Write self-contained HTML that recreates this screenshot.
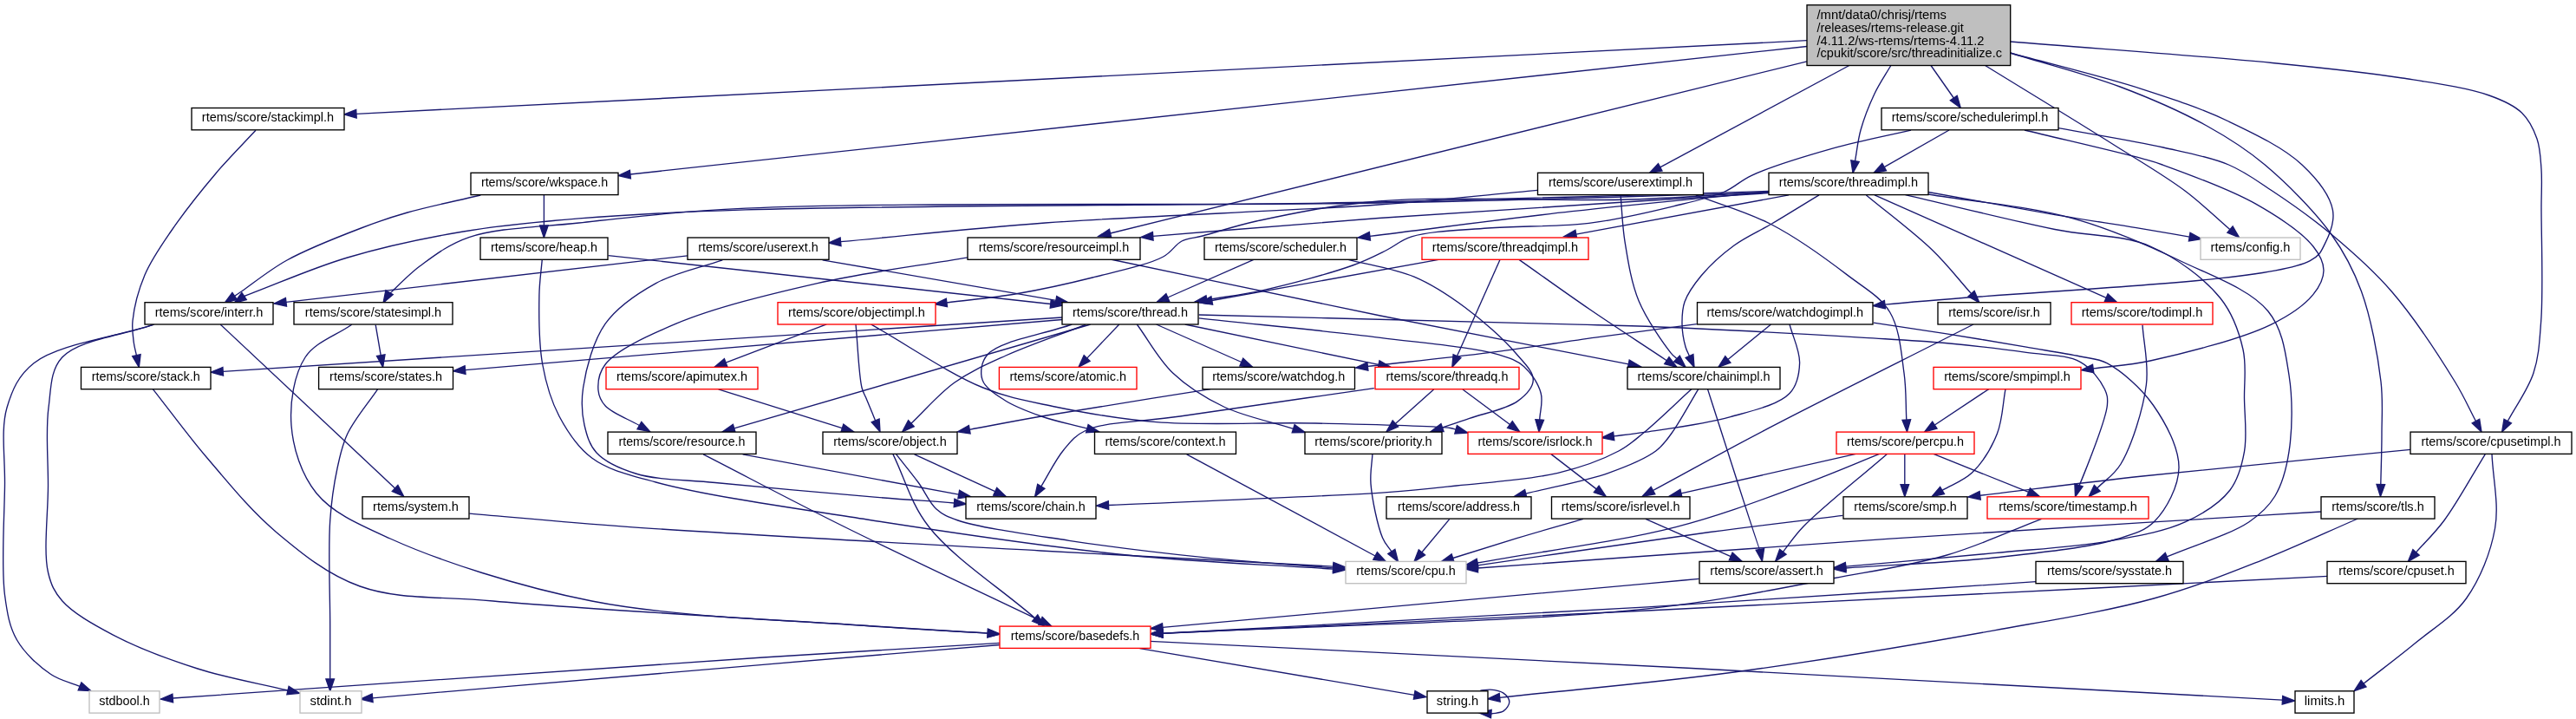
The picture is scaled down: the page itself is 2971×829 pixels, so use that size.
<!DOCTYPE html><html><head><meta charset="utf-8"><style>html,body{margin:0;padding:0;background:#fff;overflow:hidden;width:2971px;height:829px;}svg{display:block;will-change:transform;}</style></head><body><svg width="2971" height="829" viewBox="0 0 2971 829">
<rect width="100%" height="100%" fill="#fff"/>
<g fill="none" stroke="#191970" stroke-width="1.35">
<path d="M2084.0,46.7 L411.0,131.3"/>
<path d="M2084.0,53.5 L726.9,201.0"/>
<path d="M2084.0,70.8 L1280.6,269.0"/>
<path d="M2132.8,75.5 L1914.7,192.9"/>
<path d="M2180.8,75.5 C2174.5,86.3 2167.6,96.2 2162.0,108.0 C2155.9,120.9 2149.8,136.4 2146.0,150.0 C2142.6,162.2 2141.7,173.8 2139.5,185.7"/>
<path d="M2227.0,75.5 L2253.3,113.0"/>
<path d="M2289.6,75.5 C2339.1,106.0 2395.9,140.4 2438.0,167.0 C2469.5,186.9 2496.3,202.3 2520.0,220.0 C2539.9,234.9 2554.7,249.8 2572.0,264.7"/>
<path d="M2318.5,48.0 C2419.2,56.2 2537.3,64.3 2620.5,72.5 C2679.3,78.3 2725.8,82.9 2770.7,90.0 C2807.6,95.8 2845.9,101.1 2870.8,110.0 C2886.9,115.7 2899.0,121.0 2908.4,130.0 C2916.9,138.1 2922.2,149.2 2926.0,160.0 C2929.8,170.9 2930.1,182.6 2931.0,195.0 C2932.0,209.0 2931.0,221.1 2931.0,240.0 C2931.0,272.1 2933.3,335.0 2930.7,370.0 C2928.9,393.9 2928.3,410.9 2922.0,430.0 C2915.6,449.5 2902.1,467.1 2892.2,485.7"/>
<path d="M2318.5,61.0 C2369.0,74.9 2425.0,88.1 2470.0,102.6 C2507.2,114.6 2539.0,125.0 2570.4,140.0 C2600.5,154.4 2634.3,170.5 2655.0,190.0 C2671.6,205.6 2687.3,225.5 2690.4,242.2 C2692.9,255.4 2686.9,270.2 2681.7,280.4 C2677.4,288.8 2676.2,294.4 2664.3,300.6 C2613.2,327.3 2337.4,334.3 2173.9,351.2"/>
<path d="M2318.5,61.0 C2360.7,74.0 2405.7,85.2 2445.0,100.0 C2480.7,113.5 2515.6,128.7 2545.0,145.0 C2570.3,159.0 2590.1,171.4 2612.2,190.0 C2638.1,211.8 2669.4,243.3 2688.7,270.0 C2704.5,292.0 2714.3,310.8 2723.5,336.0 C2734.5,366.1 2742.5,409.9 2746.0,440.0 C2748.6,462.6 2747.0,480.1 2747.0,500.0 C2747.0,519.6 2746.2,539.0 2745.8,558.5"/>
<path d="M2248.0,150.0 L2173.2,192.6"/>
<path d="M2204.0,150.1 C2173.9,157.1 2143.8,162.7 2113.6,171.2 C2082.5,180.0 2042.6,192.0 2020.2,202.3 C2006.6,208.6 2001.5,215.6 1989.0,221.0 C1972.8,228.0 1952.2,232.4 1930.0,237.8 C1901.7,244.7 1866.7,253.1 1832.6,257.3 C1795.6,261.9 1751.9,260.1 1715.8,263.0 C1684.4,265.5 1648.9,266.4 1628.0,272.9 C1615.2,276.9 1609.5,283.3 1599.0,288.5 C1587.1,294.4 1576.4,300.1 1560.0,306.0 C1533.9,315.4 1486.5,328.0 1455.8,334.8 C1432.0,340.1 1413.1,342.0 1391.8,345.7"/>
<path d="M2374.0,147.7 C2414.3,155.1 2459.5,162.0 2495.0,170.0 C2523.2,176.3 2548.4,180.7 2570.4,190.0 C2589.4,198.0 2602.8,208.3 2620.5,220.0 C2641.8,234.1 2666.4,251.4 2688.7,270.0 C2712.4,289.8 2736.1,310.2 2758.3,336.0 C2783.9,365.7 2814.1,411.9 2831.3,440.0 C2842.3,457.9 2847.4,470.4 2855.5,485.6"/>
<path d="M2335.0,150.0 C2380.0,160.9 2443.4,175.4 2470.0,182.7 C2481.3,185.8 2483.3,186.1 2494.0,190.0 C2517.2,198.4 2571.0,217.8 2601.7,235.2 C2627.4,249.8 2655.3,268.4 2667.8,284.0 C2675.4,293.5 2680.0,302.4 2680.0,311.7 C2680.0,321.0 2675.0,330.7 2667.8,339.6 C2657.7,352.0 2640.5,363.8 2619.0,374.3 C2585.5,390.7 2518.0,407.8 2480.0,416.0 C2454.3,421.6 2436.1,421.9 2414.2,424.9"/>
<path d="M554.3,225.0 C526.2,231.7 494.8,237.9 470.0,245.0 C450.0,250.7 436.2,255.4 416.5,263.0 C391.1,272.7 355.3,286.6 331.0,300.0 C311.2,310.9 290.2,328.0 280.0,335.0 C275.6,338.0 273.7,339.3 270.6,341.4"/>
<path d="M627.4,224.7 L627.4,260.0"/>
<path d="M294.9,150.3 C279.5,166.9 264.1,182.0 248.7,200.2 C231.5,220.5 211.4,245.9 197.0,267.0 C185.0,284.5 174.4,299.5 167.0,317.0 C159.9,333.9 154.5,355.5 153.0,370.0 C152.0,379.8 153.4,387.8 154.3,395.0 C155.0,400.6 156.4,404.8 157.4,409.7"/>
<path d="M1773.0,219.3 C1712.0,224.9 1662.3,230.7 1590.0,236.0 C1485.4,243.6 1317.9,248.7 1205.4,257.0 C1117.1,263.5 1048.2,271.5 969.5,278.7"/>
<path d="M1869.1,224.9 C1870.7,242.7 1871.0,259.6 1874.0,278.4 C1877.5,299.9 1881.2,325.4 1890.0,346.8 C1898.8,368.2 1919.1,396.9 1927.0,406.8 C1929.9,410.5 1931.7,411.3 1934.0,413.6"/>
<path d="M1955.8,224.9 C1985.0,236.3 2015.0,244.2 2043.4,259.0 C2073.5,274.6 2106.6,298.7 2131.0,317.4 C2150.2,332.1 2168.9,341.9 2179.7,360.0 C2191.1,379.0 2192.9,408.0 2196.0,430.0 C2198.7,449.0 2197.9,466.0 2198.8,484.0"/>
<path d="M2039.7,220.5 C1889.8,224.7 1758.0,229.6 1590.0,233.0 C1376.0,237.3 1025.0,236.6 860.0,241.9 C775.3,244.6 726.0,247.1 667.8,251.9 C619.2,255.9 578.5,259.5 534.2,267.0 C489.5,274.5 443.5,284.3 400.7,297.0 C359.4,309.3 321.3,326.7 281.6,341.5"/>
<path d="M2039.7,222.0 C1889.8,226.0 1758.0,231.0 1590.0,234.0 C1376.0,237.8 1024.9,232.3 860.0,240.2 C775.2,244.3 725.2,250.7 667.8,257.0 C621.1,262.1 574.0,262.3 540.9,273.6 C517.2,281.7 500.4,295.0 484.0,307.0 C469.9,317.4 448.2,340.7 447.4,340.0 C447.2,339.8 448.5,338.1 449.0,337.2"/>
<path d="M2039.7,222.6 C1889.8,232.2 1719.5,242.1 1590.0,251.5 C1491.4,258.6 1416.5,265.4 1329.8,272.4"/>
<path d="M2039.7,221.0 C1964.1,228.6 1889.0,235.2 1813.0,243.7 C1735.8,252.3 1657.6,262.8 1579.9,272.3"/>
<path d="M2039.7,221.0 C1986.5,224.0 1941.1,228.1 1880.0,230.0 C1797.7,232.6 1669.2,225.3 1590.0,232.0 C1534.4,236.7 1486.3,246.9 1449.0,255.0 C1424.0,260.5 1402.9,267.8 1387.0,272.0 C1377.2,274.6 1370.4,274.2 1363.0,278.0 C1355.2,282.0 1351.8,290.5 1341.6,296.0 C1323.8,305.6 1287.9,312.9 1260.0,320.0 C1231.1,327.3 1199.9,334.1 1171.0,339.0 C1144.0,343.6 1118.3,345.6 1091.9,349.0"/>
<path d="M2063.0,224.9 L1817.8,270.1"/>
<path d="M2098.0,224.9 C2079.8,235.9 2060.7,247.8 2043.5,258.0 C2028.2,267.0 2013.5,273.1 2000.0,283.0 C1986.3,293.0 1971.9,306.1 1962.0,318.0 C1953.8,327.9 1946.5,338.0 1943.0,348.0 C1940.0,356.5 1939.9,364.8 1940.0,373.4 C1940.1,382.2 1942.1,393.2 1944.0,400.0 C1945.3,404.4 1947.0,407.0 1948.5,410.5"/>
<path d="M2152.4,224.9 C2177.7,245.9 2206.9,267.4 2228.3,288.0 C2246.1,305.1 2258.5,321.7 2273.6,338.6"/>
<path d="M2162.0,224.9 L2429.2,343.3"/>
<path d="M2224.0,221.5 C2272.7,230.2 2326.6,240.3 2370.0,247.6 C2404.7,253.5 2436.0,258.0 2464.0,262.6 C2486.6,266.3 2504.8,269.6 2525.2,273.1"/>
<path d="M793.0,294.8 L329.9,348.4"/>
<path d="M948.6,299.8 L1217.9,346.3"/>
<path d="M701.6,294.6 L1211.7,350.5"/>
<path d="M1447.0,298.8 L1346.8,343.0"/>
<path d="M1553.0,298.8 C1579.0,305.6 1607.5,309.3 1631.0,319.2 C1652.6,328.3 1670.6,340.4 1689.4,354.3 C1709.6,369.2 1734.0,390.7 1747.8,406.8 C1757.3,417.9 1768.5,428.2 1768.3,437.9 C1768.1,446.6 1759.5,455.7 1750.5,462.4 C1737.9,471.8 1710.7,476.8 1694.8,482.4 C1682.9,486.6 1674.0,489.5 1663.6,493.0"/>
<path d="M1662.0,298.8 L1397.8,346.5"/>
<path d="M1730.3,298.8 L1680.5,410.6"/>
<path d="M1752.0,299.4 C1779.2,318.5 1805.7,337.7 1833.6,356.8 C1862.4,376.5 1892.8,396.0 1922.3,415.7"/>
<path d="M1280.8,299.0 C1384.5,320.7 1490.4,343.5 1592.0,364.0 C1689.3,383.7 1782.8,401.2 1878.3,419.8"/>
<path d="M1116.4,296.8 C1058.5,306.7 999.4,313.7 942.8,326.6 C887.3,339.3 823.9,354.6 779.8,373.2 C746.9,387.1 711.1,403.3 698.2,420.0 C690.8,429.6 689.3,441.4 690.0,450.0 C690.6,456.9 693.1,462.4 698.2,468.0 C705.9,476.4 724.3,483.0 737.4,490.5"/>
<path d="M177.5,374.2 C131.3,389.0 66.9,396.7 39.0,418.7 C21.1,432.8 14.0,449.6 8.0,470.0 C0.7,495.0 6.0,527.5 5.5,560.0 C5.0,598.5 1.2,653.4 5.5,686.0 C8.3,707.3 10.9,722.8 19.6,738.0 C28.5,753.4 45.2,768.5 58.7,777.5 C69.5,784.8 80.9,786.7 92.1,791.3"/>
<path d="M177.5,374.2 C142.2,386.8 90.7,391.4 71.7,412.0 C57.8,427.1 58.9,448.3 56.0,470.0 C52.4,496.5 55.6,529.2 55.5,560.0 C55.4,592.5 49.9,636.2 55.5,660.0 C58.9,674.4 62.7,682.4 71.7,692.7 C84.2,706.9 107.3,719.8 130.0,731.8 C157.8,746.5 194.5,760.3 228.0,771.0 C261.8,781.8 297.3,787.7 332.0,796.0"/>
<path d="M254.3,374.2 L455.6,562.9"/>
<path d="M433.2,374.7 L439.2,409.6"/>
<path d="M2197.5,224.6 C2255.0,237.9 2318.8,254.1 2370.0,264.5 C2410.7,272.8 2447.6,270.0 2480.0,284.0 C2510.8,297.3 2543.0,321.4 2561.0,344.0 C2575.4,362.0 2582.5,383.1 2587.0,403.0 C2591.2,421.8 2588.2,440.7 2588.5,460.0 C2588.8,479.9 2591.8,502.3 2588.5,520.7 C2585.6,536.9 2581.8,552.2 2572.0,565.0 C2560.7,579.8 2541.2,592.2 2520.7,601.7 C2496.1,613.1 2465.1,618.0 2432.5,623.8 C2393.0,630.8 2347.0,633.1 2300.0,637.7 C2246.6,642.9 2185.8,648.1 2128.7,653.2"/>
<path d="M2224.0,224.0 C2279.0,233.1 2338.6,237.4 2389.0,251.3 C2434.0,263.7 2474.2,281.4 2513.0,300.0 C2549.6,317.6 2595.2,333.4 2616.0,359.0 C2632.8,379.6 2635.9,406.5 2640.0,432.5 C2644.4,460.2 2643.9,495.5 2640.0,520.7 C2637.0,540.4 2632.3,558.0 2623.8,572.0 C2616.3,584.4 2607.9,592.3 2594.0,601.7 C2572.2,616.4 2530.8,628.5 2499.2,641.9"/>
<path d="M1225.0,366.0 L257.2,428.3"/>
<path d="M1225.0,368.5 L536.6,426.6"/>
<path d="M1257.7,374.0 L846.7,493.9"/>
<path d="M1251.9,374.5 C1221.3,386.3 1186.9,397.8 1160.0,410.0 C1137.8,420.1 1119.1,428.1 1101.0,441.0 C1082.6,454.1 1067.6,472.5 1050.9,488.2"/>
<path d="M1236.3,374.0 C1203.9,385.6 1152.8,392.9 1139.0,408.7 C1131.6,417.2 1130.2,429.4 1133.0,437.9 C1136.0,447.1 1148.2,454.5 1158.4,461.2 C1170.3,469.0 1185.8,474.6 1201.0,480.0 C1217.5,485.8 1236.3,489.4 1253.9,494.2"/>
<path d="M1290.8,374.0 L1253.6,413.1"/>
<path d="M1311.3,374.0 C1325.1,392.7 1336.0,414.2 1352.6,430.0 C1369.3,445.9 1389.5,458.5 1411.5,469.0 C1435.5,480.4 1464.9,485.9 1491.6,494.3"/>
<path d="M1333.6,374.0 L1431.8,417.5"/>
<path d="M1366.7,374.0 L1590.0,420.4"/>
<path d="M1382.7,366.9 C1452.5,374.4 1529.7,381.5 1592.0,389.3 C1642.3,395.6 1699.9,400.4 1728.3,408.8 C1742.0,412.9 1749.5,415.4 1757.5,422.4 C1766.1,429.9 1774.4,442.7 1777.2,453.5 C1779.8,463.3 1776.2,473.8 1775.7,484.0"/>
<path d="M1382.7,363.0 C1521.8,366.6 1704.5,371.1 1800.0,373.7 C1849.9,375.1 1869.2,375.2 1914.0,377.0 C1978.5,379.6 2089.2,385.7 2150.0,389.3 C2188.3,391.6 2212.4,392.7 2243.5,395.5 C2274.7,398.4 2309.1,402.3 2337.0,406.4 C2359.9,409.7 2383.6,408.6 2399.2,417.3 C2412.0,424.4 2422.6,438.8 2427.3,448.5 C2430.4,455.0 2431.1,458.5 2430.4,467.0 C2428.7,486.9 2396.3,564.6 2396.0,564.5 C2395.9,564.5 2397.0,561.1 2397.5,559.4"/>
<path d="M2471.0,374.6 C2472.5,397.6 2478.4,419.2 2475.4,443.5 C2471.8,472.2 2458.5,514.2 2446.0,535.0 C2438.0,548.2 2427.9,553.5 2418.8,562.8"/>
<path d="M1956.8,373.6 C1917.9,378.8 1879.4,383.8 1840.0,389.2 C1799.5,394.8 1759.3,401.3 1717.0,406.7 C1672.0,412.4 1623.9,417.2 1577.4,422.4"/>
<path d="M2042.5,374.0 L1992.9,414.4"/>
<path d="M2064.0,374.0 C2067.9,388.8 2076.0,404.5 2075.6,418.4 C2075.2,430.8 2073.0,444.0 2064.0,453.5 C2051.4,466.9 2021.0,473.5 1995.8,480.7 C1966.6,489.1 1923.2,494.4 1898.4,498.2 C1883.1,500.5 1873.6,501.4 1861.2,502.9"/>
<path d="M2160.9,372.1 C2188.4,376.3 2215.1,380.1 2243.5,384.6 C2273.7,389.4 2309.0,395.4 2337.0,400.2 C2359.8,404.1 2382.1,407.3 2399.2,411.0 C2411.4,413.6 2419.4,413.0 2430.4,418.9 C2446.8,427.7 2469.7,447.5 2483.3,467.0 C2497.6,487.4 2513.4,516.4 2513.0,539.5 C2512.6,560.9 2498.7,587.1 2485.0,601.0 C2473.2,612.9 2459.7,616.1 2440.0,622.0 C2406.7,632.0 2349.1,637.6 2300.0,643.0 C2245.9,648.9 2185.8,651.0 2128.8,655.0"/>
<path d="M2276.0,374.0 C2195.6,414.8 2102.3,460.9 2034.7,496.3 C1985.1,522.3 1949.2,542.5 1906.5,565.5"/>
<path d="M953.3,373.9 L837.1,418.2"/>
<path d="M987.0,374.0 C989.3,398.3 990.6,433.3 994.0,447.0 C995.4,452.7 996.8,454.0 998.7,458.6 C1001.6,465.6 1006.0,476.1 1009.6,484.9"/>
<path d="M1004.5,373.9 C1047.6,398.3 1094.5,431.0 1133.8,447.0 C1163.7,459.2 1186.6,462.7 1216.8,469.0 C1252.2,476.3 1290.2,483.2 1333.6,486.6 C1387.7,490.9 1458.2,486.7 1516.8,488.0 C1570.8,489.2 1655.0,490.8 1672.6,493.5 C1676.3,494.1 1676.9,494.7 1679.1,495.3"/>
<path d="M176.3,448.6 C197.2,475.1 216.2,501.5 238.9,528.0 C263.3,556.5 289.0,588.7 318.5,613.4 C347.8,638.0 377.4,662.5 415.2,676.0 C459.0,691.6 504.6,687.3 568.8,693.0 C676.2,702.5 895.8,714.8 1000.0,721.5 C1059.2,725.3 1092.8,727.3 1139.2,730.1"/>
<path d="M435.7,448.6 C424.0,465.8 408.6,483.6 400.7,500.3 C394.3,513.9 392.2,525.3 389.0,540.0 C385.2,557.8 382.3,576.5 380.7,600.0 C378.4,633.1 380.7,686.4 380.7,720.0 C380.7,744.3 380.7,761.9 380.7,782.8"/>
<path d="M405.7,374.2 C387.8,386.8 363.7,394.1 352.0,412.0 C339.1,431.7 334.0,464.6 336.0,490.5 C338.0,516.9 347.6,547.5 365.0,568.7 C384.1,591.9 413.4,604.4 450.0,621.0 C507.2,647.0 598.1,676.3 682.6,693.0 C779.3,712.1 915.7,715.1 1000.0,721.5 C1055.8,725.7 1092.8,727.3 1139.2,730.1"/>
<path d="M625.2,299.9 C624.1,313.3 622.2,324.3 621.9,340.0 C621.5,362.1 621.3,395.5 625.7,420.0 C629.6,441.7 635.4,461.9 645.0,480.0 C654.5,497.8 665.8,515.6 682.6,528.0 C701.7,542.1 724.2,547.1 756.5,556.0 C813.7,571.7 914.5,585.6 1000.0,599.0 C1094.7,613.8 1205.7,630.4 1300.0,640.0 C1383.7,648.5 1458.5,650.7 1537.7,656.1"/>
<path d="M833.3,299.8 C807.7,308.7 779.4,313.9 756.5,326.6 C734.6,338.7 712.2,353.5 698.2,373.2 C683.9,393.4 675.9,425.4 672.6,447.0 C670.2,463.0 671.1,477.0 674.0,490.0 C676.7,501.7 679.8,513.2 688.0,522.0 C697.9,532.7 714.8,540.3 733.2,546.0 C757.9,553.7 789.5,552.9 825.0,556.5 C874.0,561.5 949.7,568.2 1000.0,572.4 C1038.1,575.6 1067.0,577.4 1100.5,580.0"/>
<path d="M828.7,448.9 L971.3,493.6"/>
<path d="M1396.0,448.6 C1331.0,459.1 1252.2,471.2 1201.0,480.0 C1167.6,485.8 1145.8,490.2 1118.3,495.3"/>
<path d="M1653.6,449.0 L1609.4,488.5"/>
<path d="M1687.0,449.0 L1741.5,489.5"/>
<path d="M1584.8,447.6 C1510.2,458.4 1422.3,470.9 1361.0,480.0 C1318.2,486.3 1274.7,485.8 1251.9,496.5 C1239.3,502.4 1234.4,509.6 1226.6,519.0 C1217.2,530.3 1209.4,546.9 1200.8,560.9"/>
<path d="M1951.0,448.6 C1932.2,465.7 1910.3,487.2 1894.5,500.0 C1883.9,508.6 1878.8,513.7 1866.9,520.0 C1849.4,529.3 1823.5,538.9 1796.8,545.3 C1763.2,553.4 1715.3,556.1 1680.0,560.0 C1650.8,563.2 1635.6,565.1 1600.0,567.6 C1528.7,572.6 1385.7,577.6 1278.5,582.5"/>
<path d="M1958.8,448.6 C1948.4,465.7 1937.1,487.2 1927.6,500.0 C1921.2,508.6 1918.1,513.7 1909.7,520.0 C1897.1,529.4 1876.3,537.8 1855.2,545.3 C1828.2,554.8 1791.6,561.2 1759.8,569.1"/>
<path d="M1969.5,448.6 C1975.0,465.7 1979.1,478.8 1986.0,500.0 C1997.2,534.7 2029.7,637.0 2030.5,636.8 C2030.6,636.8 2030.1,634.6 2029.9,633.4"/>
<path d="M2293.7,448.6 L2231.4,490.0"/>
<path d="M2313.0,448.6 C2309.8,465.7 2309.7,484.0 2303.4,500.0 C2297.0,516.1 2286.2,533.6 2274.7,544.8 C2264.6,554.5 2251.6,558.6 2240.0,565.4"/>
<path d="M856.6,523.9 L1105.7,570.1"/>
<path d="M811.2,523.9 C865.2,551.6 914.4,577.9 973.1,607.0 C1042.1,641.3 1124.4,679.5 1200.0,715.7"/>
<path d="M1054.6,523.9 L1147.7,566.7"/>
<path d="M1030.0,523.9 C1043.7,551.6 1049.9,579.8 1071.0,607.0 C1098.9,643.0 1152.8,677.4 1193.7,712.7"/>
<path d="M1033.7,523.9 C1042.2,534.8 1051.4,545.7 1059.3,556.5 C1066.8,566.7 1071.7,579.6 1080.0,587.0 C1087.2,593.4 1092.9,595.9 1104.8,600.0 C1130.5,608.8 1188.1,616.4 1233.0,623.3 C1282.1,630.8 1336.7,637.4 1388.0,642.7 C1438.3,647.9 1487.8,650.8 1537.7,654.9"/>
<path d="M1368.7,523.8 L1586.1,641.0"/>
<path d="M1582.9,523.8 C1582.3,535.2 1580.0,544.9 1581.0,557.9 C1582.4,575.6 1588.8,606.4 1594.5,620.0 C1597.6,627.4 1601.4,630.6 1604.9,635.9"/>
<path d="M1788.0,522.9 L1841.2,563.9"/>
<path d="M2140.4,523.4 L1939.0,568.9"/>
<path d="M2167.6,523.4 C2138.4,535.1 2113.2,546.2 2080.0,558.4 C2037.5,574.0 1988.0,593.5 1933.0,607.6 C1865.7,624.9 1780.4,635.2 1704.1,649.0"/>
<path d="M2176.4,523.4 C2144.3,551.3 2100.7,585.5 2080.0,607.0 C2068.8,618.7 2064.3,626.5 2056.4,636.3"/>
<path d="M2196.8,523.4 L2196.8,558.6"/>
<path d="M2230.0,523.4 L2339.6,567.4"/>
<path d="M2780.2,518.4 C2677.1,528.6 2561.2,539.2 2471.0,549.0 C2400.7,556.7 2346.1,563.9 2283.7,571.3"/>
<path d="M2866.2,523.8 C2850.5,549.2 2834.1,579.7 2819.0,600.0 C2807.8,615.1 2797.4,624.6 2786.5,636.9"/>
<path d="M2874.0,523.5 C2875.2,552.0 2882.4,581.4 2877.6,609.0 C2872.7,636.9 2860.5,667.5 2844.5,690.0 C2829.3,711.2 2805.5,725.0 2785.6,741.5 C2766.0,757.7 2745.9,772.6 2726.0,788.2"/>
<path d="M541.4,592.1 C600.9,597.1 646.0,601.9 720.0,607.2 C841.2,615.8 1054.0,626.9 1200.0,635.0 C1322.4,641.8 1425.1,647.1 1537.7,653.1"/>
<path d="M1671.7,598.6 L1639.9,636.8"/>
<path d="M1826.0,598.3 C1800.7,605.7 1775.2,612.8 1750.0,620.4 C1725.1,627.9 1700.4,635.8 1675.7,643.5"/>
<path d="M1898.0,598.3 L1996.2,641.6"/>
<path d="M2125.4,594.4 C2074.3,600.8 2030.2,605.7 1972.0,613.5 C1895.0,623.8 1793.4,639.1 1704.2,651.9"/>
<path d="M2354.5,598.3 C2318.2,612.2 2283.9,628.8 2245.5,640.0 C2204.7,651.9 2164.8,657.5 2116.0,666.5 C2053.3,678.1 1989.1,692.4 1900.0,701.9 C1757.5,717.2 1527.3,720.8 1341.0,730.3"/>
<path d="M2677.0,590.0 C2608.3,594.2 2545.6,598.0 2471.0,602.7 C2382.4,608.3 2288.8,613.9 2180.0,621.2 C2040.8,630.6 1862.8,643.7 1704.3,655.0"/>
<path d="M2719.4,598.0 C2682.6,613.9 2647.2,630.8 2609.0,645.8 C2568.9,661.6 2530.2,677.3 2484.0,690.0 C2429.1,705.1 2368.9,714.4 2300.0,726.8 C2212.3,742.6 2097.6,761.9 2000.0,775.0 C1907.7,787.4 1819.8,794.5 1729.7,804.3"/>
<path d="M1959.5,667.4 C1939.7,669.2 1929.9,670.1 1900.0,672.8 C1808.3,681.1 1527.3,706.6 1340.9,723.4"/>
<path d="M2348.2,670.7 C2198.8,680.4 2057.7,690.4 1900.0,699.8 C1724.0,710.3 1527.3,720.1 1341.0,730.2"/>
<path d="M2684.6,664.4 C2423.1,677.6 2139.4,692.3 1900.0,704.0 C1697.9,713.9 1527.3,721.6 1341.0,730.3"/>
<path d="M1153.2,741.4 C1062.1,746.9 991.5,750.8 880.0,758.0 C704.0,769.4 426.2,789.4 199.3,805.0"/>
<path d="M1153.2,743.5 C1062.1,751.1 982.4,757.7 880.0,766.3 C748.5,777.4 579.8,792.0 429.6,804.8"/>
<path d="M1326.2,739.3 C1534.5,749.7 1738.2,759.5 1951.0,770.5 C2173.2,782.0 2405.3,795.0 2632.4,807.2"/>
<path d="M1314.5,747.6 L1631.2,801.4"/>
<path d="M1707.1,796.3 C1711.0,795.9 1714.6,794.8 1718.7,795.1 C1723.5,795.5 1730.2,796.4 1734.0,799.1 C1737.3,801.5 1740.8,806.0 1740.8,809.5 C1740.8,813.0 1737.3,817.6 1734.0,819.9 C1730.5,822.3 1724.6,822.0 1719.9,823.0"/>
</g>
<g fill="#191970" stroke="#191970" stroke-width="1.35">
<path d="M397.0,132.0 L410.7,126.5 L411.2,136.1Z"/>
<path d="M713.0,202.5 L726.4,196.2 L727.4,205.8Z"/>
<path d="M1267.0,272.4 L1279.4,264.4 L1281.7,273.7Z"/>
<path d="M1902.4,199.5 L1912.5,188.6 L1917.0,197.1Z"/>
<path d="M2137.0,199.5 L2134.8,184.9 L2144.2,186.6Z"/>
<path d="M2261.3,124.5 L2249.3,115.8 L2257.2,110.3Z"/>
<path d="M2582.6,273.8 L2568.9,268.3 L2575.1,261.0Z"/>
<path d="M2885.6,498.0 L2888.0,483.4 L2896.4,487.9Z"/>
<path d="M2160.0,352.6 L2173.4,346.4 L2174.4,355.9Z"/>
<path d="M2745.5,572.5 L2741.0,558.4 L2750.6,558.6Z"/>
<path d="M2161.0,199.5 L2170.8,188.4 L2175.5,196.7Z"/>
<path d="M1378.0,348.0 L1391.0,340.9 L1392.6,350.4Z"/>
<path d="M2862.0,498.0 L2851.2,487.9 L2859.7,483.4Z"/>
<path d="M2400.3,426.8 L2413.5,420.2 L2414.8,429.7Z"/>
<path d="M259.0,349.3 L267.9,337.5 L273.3,345.4Z"/>
<path d="M627.4,274.0 L622.6,260.0 L632.2,260.0Z"/>
<path d="M160.3,423.4 L152.7,410.7 L162.1,408.7Z"/>
<path d="M955.6,280.0 L969.1,273.9 L970.0,283.5Z"/>
<path d="M1944.0,423.4 L1930.6,417.1 L1937.3,410.2Z"/>
<path d="M2199.5,498.0 L2194.0,484.3 L2203.6,483.8Z"/>
<path d="M270.0,349.3 L278.9,337.5 L284.3,345.5Z"/>
<path d="M442.0,349.3 L444.9,334.8 L453.2,339.6Z"/>
<path d="M1315.8,273.5 L1329.4,267.6 L1330.1,277.2Z"/>
<path d="M1566.0,274.0 L1579.3,267.5 L1580.5,277.1Z"/>
<path d="M1078.0,350.7 L1091.3,344.2 L1092.5,353.7Z"/>
<path d="M1804.0,272.6 L1816.9,265.3 L1818.6,274.8Z"/>
<path d="M1954.0,423.4 L1944.1,412.4 L1952.9,408.6Z"/>
<path d="M2282.9,349.0 L2270.0,341.8 L2277.1,335.4Z"/>
<path d="M2442.0,349.0 L2427.3,347.7 L2431.1,338.9Z"/>
<path d="M2539.0,275.5 L2524.4,277.9 L2526.0,268.4Z"/>
<path d="M316.0,350.0 L329.4,343.6 L330.5,353.2Z"/>
<path d="M1231.7,348.7 L1217.1,351.0 L1218.7,341.6Z"/>
<path d="M1225.6,352.0 L1211.2,355.2 L1212.2,345.7Z"/>
<path d="M1334.0,348.6 L1344.9,338.6 L1348.7,347.3Z"/>
<path d="M1650.3,497.5 L1662.0,488.5 L1665.1,497.5Z"/>
<path d="M1384.0,349.0 L1396.9,341.8 L1398.6,351.2Z"/>
<path d="M1674.8,423.4 L1676.1,408.7 L1684.9,412.6Z"/>
<path d="M1934.0,423.4 L1919.7,419.7 L1925.0,411.7Z"/>
<path d="M1892.0,422.5 L1877.3,424.5 L1879.2,415.1Z"/>
<path d="M749.5,497.5 L735.0,494.7 L739.8,486.4Z"/>
<path d="M105.0,796.7 L90.2,795.8 L93.9,786.9Z"/>
<path d="M345.6,799.3 L330.9,800.7 L333.1,791.4Z"/>
<path d="M465.8,572.5 L452.3,566.4 L458.9,559.4Z"/>
<path d="M441.6,423.4 L434.5,410.4 L444.0,408.8Z"/>
<path d="M2114.8,654.5 L2128.3,648.5 L2129.2,658.0Z"/>
<path d="M2486.3,647.4 L2497.3,637.5 L2501.1,646.4Z"/>
<path d="M243.2,429.2 L256.9,423.5 L257.5,433.1Z"/>
<path d="M522.6,427.8 L536.1,421.8 L537.0,431.4Z"/>
<path d="M833.3,497.8 L845.4,489.3 L848.1,498.5Z"/>
<path d="M1040.7,497.8 L1047.6,484.7 L1054.2,491.7Z"/>
<path d="M1267.4,497.8 L1252.6,498.8 L1255.1,489.5Z"/>
<path d="M1244.0,423.2 L1250.2,409.7 L1257.1,416.4Z"/>
<path d="M1505.0,498.5 L1490.2,498.9 L1493.1,489.7Z"/>
<path d="M1444.6,423.2 L1429.9,421.9 L1433.7,413.1Z"/>
<path d="M1603.7,423.2 L1589.0,425.1 L1591.0,415.7Z"/>
<path d="M1775.0,498.0 L1770.9,483.8 L1780.5,484.3Z"/>
<path d="M2393.5,572.8 L2392.9,558.0 L2402.1,560.8Z"/>
<path d="M2409.0,572.8 L2415.4,559.4 L2422.2,566.2Z"/>
<path d="M1563.5,424.0 L1576.9,417.7 L1577.9,427.2Z"/>
<path d="M1982.0,423.2 L1989.8,410.6 L1995.9,418.1Z"/>
<path d="M1847.3,504.7 L1860.6,498.2 L1861.8,507.7Z"/>
<path d="M2114.8,656.0 L2128.4,650.2 L2129.1,659.8Z"/>
<path d="M1894.2,572.2 L1904.2,561.3 L1908.8,569.8Z"/>
<path d="M824.0,423.2 L835.4,413.7 L838.8,422.7Z"/>
<path d="M1015.0,497.8 L1005.2,486.7 L1014.1,483.0Z"/>
<path d="M1692.6,499.0 L1677.8,499.9 L1680.4,490.7Z"/>
<path d="M1153.2,731.0 L1138.9,734.9 L1139.5,725.3Z"/>
<path d="M380.7,796.8 L375.9,782.8 L385.5,782.8Z"/>
<path d="M1153.2,731.0 L1138.9,734.9 L1139.5,725.3Z"/>
<path d="M1551.7,657.0 L1537.4,660.8 L1538.1,651.3Z"/>
<path d="M1114.5,581.0 L1100.2,584.7 L1100.9,575.2Z"/>
<path d="M984.7,497.8 L969.9,498.2 L972.8,489.0Z"/>
<path d="M1104.5,497.8 L1117.4,490.5 L1119.1,500.0Z"/>
<path d="M1599.0,497.8 L1606.2,484.9 L1612.6,492.0Z"/>
<path d="M1752.7,497.8 L1738.6,493.3 L1744.3,485.6Z"/>
<path d="M1193.5,572.8 L1196.7,558.4 L1204.9,563.4Z"/>
<path d="M1264.5,583.2 L1278.3,577.8 L1278.7,587.3Z"/>
<path d="M1746.2,572.5 L1758.6,564.5 L1760.9,573.8Z"/>
<path d="M2032.4,647.2 L2025.2,634.3 L2034.6,632.6Z"/>
<path d="M2219.7,497.8 L2228.7,486.1 L2234.0,494.0Z"/>
<path d="M2228.0,572.6 L2237.6,561.3 L2242.5,569.6Z"/>
<path d="M1119.5,572.6 L1104.9,574.8 L1106.6,565.3Z"/>
<path d="M1212.6,721.8 L1197.9,720.1 L1202.1,711.4Z"/>
<path d="M1160.4,572.6 L1145.7,571.1 L1149.7,562.4Z"/>
<path d="M1204.3,721.8 L1190.6,716.3 L1196.8,709.0Z"/>
<path d="M1551.7,656.0 L1537.4,659.7 L1538.1,650.1Z"/>
<path d="M1598.4,647.6 L1583.8,645.2 L1588.4,636.7Z"/>
<path d="M1612.5,647.6 L1600.8,638.5 L1608.9,633.3Z"/>
<path d="M1852.3,572.4 L1838.3,567.7 L1844.1,560.1Z"/>
<path d="M1925.3,572.0 L1937.9,564.2 L1940.0,573.6Z"/>
<path d="M1690.3,651.5 L1703.2,644.3 L1704.9,653.7Z"/>
<path d="M2047.6,647.2 L2052.6,633.3 L2060.1,639.3Z"/>
<path d="M2196.8,572.6 L2192.0,558.6 L2201.6,558.6Z"/>
<path d="M2352.6,572.6 L2337.8,571.8 L2341.4,562.9Z"/>
<path d="M2269.8,573.0 L2283.1,566.6 L2284.3,576.1Z"/>
<path d="M2777.3,647.4 L2782.9,633.7 L2790.2,640.1Z"/>
<path d="M2715.0,796.8 L2723.1,784.4 L2729.0,791.9Z"/>
<path d="M1551.7,653.9 L1537.5,657.9 L1538.0,648.4Z"/>
<path d="M1631.0,647.6 L1636.3,633.8 L1643.6,639.9Z"/>
<path d="M1662.3,647.6 L1674.2,638.9 L1677.1,648.0Z"/>
<path d="M2009.0,647.2 L1994.3,645.9 L1998.1,637.2Z"/>
<path d="M1690.3,653.9 L1703.5,647.2 L1704.8,656.7Z"/>
<path d="M1327.0,731.0 L1340.7,725.5 L1341.2,735.1Z"/>
<path d="M1690.3,656.0 L1703.9,650.2 L1704.6,659.8Z"/>
<path d="M1715.8,805.8 L1729.2,799.5 L1730.2,809.1Z"/>
<path d="M1327.0,724.7 L1340.5,718.7 L1341.4,728.2Z"/>
<path d="M1327.0,731.0 L1340.7,725.4 L1341.2,735.0Z"/>
<path d="M1327.0,731.0 L1340.8,725.5 L1341.2,735.1Z"/>
<path d="M185.3,806.0 L198.9,800.2 L199.6,809.8Z"/>
<path d="M415.7,806.0 L429.2,800.0 L430.1,809.6Z"/>
<path d="M2646.4,808.0 L2632.2,812.0 L2632.7,802.5Z"/>
<path d="M1645.0,803.7 L1630.4,806.1 L1632.0,796.6Z"/>
<path d="M1705.9,822.0 L1720.2,818.3 L1719.5,827.8Z"/>
</g>
<g font-family="Liberation Sans, sans-serif" font-size="14.1" fill="#000">
<rect x="221.0" y="124.5" width="176.0" height="25.3" fill="#fff" stroke="#000" stroke-width="1.35"/>
<text x="309.0" y="140.3" text-anchor="middle" textLength="152.4" lengthAdjust="spacingAndGlyphs">rtems/score/stackimpl.h</text>
<rect x="2170.0" y="124.5" width="204.0" height="25.3" fill="#fff" stroke="#000" stroke-width="1.35"/>
<text x="2272.0" y="140.3" text-anchor="middle" textLength="180.7" lengthAdjust="spacingAndGlyphs">rtems/score/schedulerimpl.h</text>
<rect x="543.0" y="199.3" width="170.0" height="25.3" fill="#fff" stroke="#000" stroke-width="1.35"/>
<text x="628.0" y="215.1" text-anchor="middle" textLength="146.2" lengthAdjust="spacingAndGlyphs">rtems/score/wkspace.h</text>
<rect x="1773.5" y="199.3" width="191.0" height="25.3" fill="#fff" stroke="#000" stroke-width="1.35"/>
<text x="1869.0" y="215.1" text-anchor="middle" textLength="166.1" lengthAdjust="spacingAndGlyphs">rtems/score/userextimpl.h</text>
<rect x="2040.0" y="199.3" width="184.0" height="25.3" fill="#fff" stroke="#000" stroke-width="1.35"/>
<text x="2132.0" y="215.1" text-anchor="middle" textLength="160.3" lengthAdjust="spacingAndGlyphs">rtems/score/threadimpl.h</text>
<rect x="554.0" y="274.0" width="147.0" height="25.3" fill="#fff" stroke="#000" stroke-width="1.35"/>
<text x="627.5" y="289.8" text-anchor="middle" textLength="123.0" lengthAdjust="spacingAndGlyphs">rtems/score/heap.h</text>
<rect x="793.0" y="274.0" width="163.0" height="25.3" fill="#fff" stroke="#000" stroke-width="1.35"/>
<text x="874.5" y="289.8" text-anchor="middle" textLength="138.7" lengthAdjust="spacingAndGlyphs">rtems/score/userext.h</text>
<rect x="1116.0" y="274.0" width="199.0" height="25.3" fill="#fff" stroke="#000" stroke-width="1.35"/>
<text x="1215.5" y="289.8" text-anchor="middle" textLength="173.5" lengthAdjust="spacingAndGlyphs">rtems/score/resourceimpl.h</text>
<rect x="1389.0" y="274.0" width="176.0" height="25.3" fill="#fff" stroke="#000" stroke-width="1.35"/>
<text x="1477.0" y="289.8" text-anchor="middle" textLength="152.1" lengthAdjust="spacingAndGlyphs">rtems/score/scheduler.h</text>
<rect x="1640.0" y="274.0" width="192.0" height="25.3" fill="#fff" stroke="#ff0000" stroke-width="1.35"/>
<text x="1736.0" y="289.8" text-anchor="middle" textLength="168.3" lengthAdjust="spacingAndGlyphs">rtems/score/threadqimpl.h</text>
<rect x="2538.0" y="274.0" width="115.0" height="25.3" fill="#fff" stroke="#bfbfbf" stroke-width="1.35"/>
<text x="2595.5" y="289.8" text-anchor="middle" textLength="91.9" lengthAdjust="spacingAndGlyphs">rtems/config.h</text>
<rect x="167.0" y="348.7" width="148.0" height="25.3" fill="#fff" stroke="#000" stroke-width="1.35"/>
<text x="241.0" y="364.5" text-anchor="middle" textLength="124.7" lengthAdjust="spacingAndGlyphs">rtems/score/interr.h</text>
<rect x="339.0" y="348.7" width="183.0" height="25.3" fill="#fff" stroke="#000" stroke-width="1.35"/>
<text x="430.5" y="364.5" text-anchor="middle" textLength="157.4" lengthAdjust="spacingAndGlyphs">rtems/score/statesimpl.h</text>
<rect x="897.0" y="348.7" width="182.0" height="25.3" fill="#fff" stroke="#ff0000" stroke-width="1.35"/>
<text x="988.0" y="364.5" text-anchor="middle" textLength="157.8" lengthAdjust="spacingAndGlyphs">rtems/score/objectimpl.h</text>
<rect x="1225.0" y="348.7" width="157.0" height="25.3" fill="#fff" stroke="#000" stroke-width="1.35"/>
<text x="1303.5" y="364.5" text-anchor="middle" textLength="132.9" lengthAdjust="spacingAndGlyphs">rtems/score/thread.h</text>
<rect x="1957.5" y="348.7" width="202.5" height="25.3" fill="#fff" stroke="#000" stroke-width="1.35"/>
<text x="2058.8" y="364.5" text-anchor="middle" textLength="180.6" lengthAdjust="spacingAndGlyphs">rtems/score/watchdogimpl.h</text>
<rect x="2235.0" y="348.7" width="130.0" height="25.3" fill="#fff" stroke="#000" stroke-width="1.35"/>
<text x="2300.0" y="364.5" text-anchor="middle" textLength="105.6" lengthAdjust="spacingAndGlyphs">rtems/score/isr.h</text>
<rect x="2389.0" y="348.7" width="163.0" height="25.3" fill="#fff" stroke="#ff0000" stroke-width="1.35"/>
<text x="2470.5" y="364.5" text-anchor="middle" textLength="139.5" lengthAdjust="spacingAndGlyphs">rtems/score/todimpl.h</text>
<rect x="93.5" y="423.4" width="149.5" height="25.3" fill="#fff" stroke="#000" stroke-width="1.35"/>
<text x="168.2" y="439.2" text-anchor="middle" textLength="125.0" lengthAdjust="spacingAndGlyphs">rtems/score/stack.h</text>
<rect x="367.6" y="423.4" width="154.9" height="25.3" fill="#fff" stroke="#000" stroke-width="1.35"/>
<text x="445.1" y="439.2" text-anchor="middle" textLength="130.0" lengthAdjust="spacingAndGlyphs">rtems/score/states.h</text>
<rect x="699.0" y="423.4" width="175.0" height="25.3" fill="#fff" stroke="#ff0000" stroke-width="1.35"/>
<text x="786.5" y="439.2" text-anchor="middle" textLength="151.1" lengthAdjust="spacingAndGlyphs">rtems/score/apimutex.h</text>
<rect x="1152.4" y="423.4" width="158.6" height="25.3" fill="#fff" stroke="#ff0000" stroke-width="1.35"/>
<text x="1231.7" y="439.2" text-anchor="middle" textLength="134.6" lengthAdjust="spacingAndGlyphs">rtems/score/atomic.h</text>
<rect x="1387.0" y="423.4" width="175.5" height="25.3" fill="#fff" stroke="#000" stroke-width="1.35"/>
<text x="1474.8" y="439.2" text-anchor="middle" textLength="153.2" lengthAdjust="spacingAndGlyphs">rtems/score/watchdog.h</text>
<rect x="1586.0" y="423.4" width="166.0" height="25.3" fill="#fff" stroke="#ff0000" stroke-width="1.35"/>
<text x="1669.0" y="439.2" text-anchor="middle" textLength="140.9" lengthAdjust="spacingAndGlyphs">rtems/score/threadq.h</text>
<rect x="1877.0" y="423.4" width="176.0" height="25.3" fill="#fff" stroke="#000" stroke-width="1.35"/>
<text x="1965.0" y="439.2" text-anchor="middle" textLength="153.0" lengthAdjust="spacingAndGlyphs">rtems/score/chainimpl.h</text>
<rect x="2230.0" y="423.4" width="170.0" height="25.3" fill="#fff" stroke="#ff0000" stroke-width="1.35"/>
<text x="2315.0" y="439.2" text-anchor="middle" textLength="145.7" lengthAdjust="spacingAndGlyphs">rtems/score/smpimpl.h</text>
<rect x="701.0" y="498.1" width="171.0" height="25.3" fill="#fff" stroke="#000" stroke-width="1.35"/>
<text x="786.5" y="513.9" text-anchor="middle" textLength="146.1" lengthAdjust="spacingAndGlyphs">rtems/score/resource.h</text>
<rect x="949.0" y="498.1" width="155.0" height="25.3" fill="#fff" stroke="#000" stroke-width="1.35"/>
<text x="1026.5" y="513.9" text-anchor="middle" textLength="130.4" lengthAdjust="spacingAndGlyphs">rtems/score/object.h</text>
<rect x="1262.5" y="498.1" width="163.0" height="25.3" fill="#fff" stroke="#000" stroke-width="1.35"/>
<text x="1344.0" y="513.9" text-anchor="middle" textLength="139.1" lengthAdjust="spacingAndGlyphs">rtems/score/context.h</text>
<rect x="1505.0" y="498.1" width="158.0" height="25.3" fill="#fff" stroke="#000" stroke-width="1.35"/>
<text x="1584.0" y="513.9" text-anchor="middle" textLength="135.3" lengthAdjust="spacingAndGlyphs">rtems/score/priority.h</text>
<rect x="1693.0" y="498.1" width="155.0" height="25.3" fill="#fff" stroke="#ff0000" stroke-width="1.35"/>
<text x="1770.5" y="513.9" text-anchor="middle" textLength="132.2" lengthAdjust="spacingAndGlyphs">rtems/score/isrlock.h</text>
<rect x="2118.0" y="498.1" width="159.0" height="25.3" fill="#fff" stroke="#ff0000" stroke-width="1.35"/>
<text x="2197.5" y="513.9" text-anchor="middle" textLength="135.1" lengthAdjust="spacingAndGlyphs">rtems/score/percpu.h</text>
<rect x="2780.0" y="498.1" width="186.0" height="25.3" fill="#fff" stroke="#000" stroke-width="1.35"/>
<text x="2873.0" y="513.9" text-anchor="middle" textLength="161.1" lengthAdjust="spacingAndGlyphs">rtems/score/cpusetimpl.h</text>
<rect x="418.0" y="572.8" width="123.0" height="25.3" fill="#fff" stroke="#000" stroke-width="1.35"/>
<text x="479.5" y="588.6" text-anchor="middle" textLength="98.9" lengthAdjust="spacingAndGlyphs">rtems/system.h</text>
<rect x="1114.0" y="572.8" width="150.0" height="25.3" fill="#fff" stroke="#000" stroke-width="1.35"/>
<text x="1189.0" y="588.6" text-anchor="middle" textLength="125.7" lengthAdjust="spacingAndGlyphs">rtems/score/chain.h</text>
<rect x="1599.0" y="572.8" width="167.0" height="25.3" fill="#fff" stroke="#000" stroke-width="1.35"/>
<text x="1682.5" y="588.6" text-anchor="middle" textLength="141.1" lengthAdjust="spacingAndGlyphs">rtems/score/address.h</text>
<rect x="1789.5" y="572.8" width="159.5" height="25.3" fill="#fff" stroke="#000" stroke-width="1.35"/>
<text x="1869.2" y="588.6" text-anchor="middle" textLength="136.8" lengthAdjust="spacingAndGlyphs">rtems/score/isrlevel.h</text>
<rect x="2126.0" y="572.8" width="143.0" height="25.3" fill="#fff" stroke="#000" stroke-width="1.35"/>
<text x="2197.5" y="588.6" text-anchor="middle" textLength="118.3" lengthAdjust="spacingAndGlyphs">rtems/score/smp.h</text>
<rect x="2292.0" y="572.8" width="186.0" height="25.3" fill="#fff" stroke="#ff0000" stroke-width="1.35"/>
<text x="2385.0" y="588.6" text-anchor="middle" textLength="159.6" lengthAdjust="spacingAndGlyphs">rtems/score/timestamp.h</text>
<rect x="2677.0" y="572.8" width="131.0" height="25.3" fill="#fff" stroke="#000" stroke-width="1.35"/>
<text x="2742.5" y="588.6" text-anchor="middle" textLength="106.5" lengthAdjust="spacingAndGlyphs">rtems/score/tls.h</text>
<rect x="1552.0" y="647.4" width="139.0" height="25.3" fill="#fff" stroke="#bfbfbf" stroke-width="1.35"/>
<text x="1621.5" y="663.2" text-anchor="middle" textLength="114.4" lengthAdjust="spacingAndGlyphs">rtems/score/cpu.h</text>
<rect x="1960.0" y="647.4" width="155.0" height="25.3" fill="#fff" stroke="#000" stroke-width="1.35"/>
<text x="2037.5" y="663.2" text-anchor="middle" textLength="130.3" lengthAdjust="spacingAndGlyphs">rtems/score/assert.h</text>
<rect x="2348.0" y="647.4" width="170.0" height="25.3" fill="#fff" stroke="#000" stroke-width="1.35"/>
<text x="2433.0" y="663.2" text-anchor="middle" textLength="144.1" lengthAdjust="spacingAndGlyphs">rtems/score/sysstate.h</text>
<rect x="2684.0" y="647.4" width="160.0" height="25.3" fill="#fff" stroke="#000" stroke-width="1.35"/>
<text x="2764.0" y="663.2" text-anchor="middle" textLength="133.7" lengthAdjust="spacingAndGlyphs">rtems/score/cpuset.h</text>
<rect x="1153.0" y="722.1" width="174.0" height="25.3" fill="#fff" stroke="#ff0000" stroke-width="1.35"/>
<text x="1240.0" y="737.9" text-anchor="middle" textLength="148.4" lengthAdjust="spacingAndGlyphs">rtems/score/basedefs.h</text>
<rect x="103.0" y="796.8" width="81.0" height="25.3" fill="#fff" stroke="#bfbfbf" stroke-width="1.35"/>
<text x="143.5" y="812.6" text-anchor="middle" textLength="58.6" lengthAdjust="spacingAndGlyphs">stdbool.h</text>
<rect x="346.0" y="796.8" width="71.0" height="25.3" fill="#fff" stroke="#bfbfbf" stroke-width="1.35"/>
<text x="381.5" y="812.6" text-anchor="middle" textLength="48.1" lengthAdjust="spacingAndGlyphs">stdint.h</text>
<rect x="1646.0" y="796.8" width="70.0" height="25.3" fill="#fff" stroke="#000" stroke-width="1.35"/>
<text x="1681.0" y="812.6" text-anchor="middle" textLength="48.3" lengthAdjust="spacingAndGlyphs">string.h</text>
<rect x="2647.0" y="796.8" width="68.0" height="25.3" fill="#fff" stroke="#000" stroke-width="1.35"/>
<text x="2681.0" y="812.6" text-anchor="middle" textLength="46.5" lengthAdjust="spacingAndGlyphs">limits.h</text>
<rect x="2084" y="5.8" width="234.7" height="69.7" fill="#bfbfbf" stroke="#000" stroke-width="1.35"/>
<g>
<text x="2095.5" y="22.3" text-anchor="start" textLength="149.5" lengthAdjust="spacingAndGlyphs">/mnt/data0/chrisj/rtems</text>
<text x="2095.5" y="36.9" text-anchor="start" textLength="169.3" lengthAdjust="spacingAndGlyphs">/releases/rtems-release.git</text>
<text x="2095.5" y="51.5" text-anchor="start" textLength="193.0" lengthAdjust="spacingAndGlyphs">/4.11.2/ws-rtems/rtems-4.11.2</text>
<text x="2095.5" y="66.1" text-anchor="start" textLength="213.5" lengthAdjust="spacingAndGlyphs">/cpukit/score/src/threadinitialize.c</text>
</g>
</g>
</svg></body></html>
